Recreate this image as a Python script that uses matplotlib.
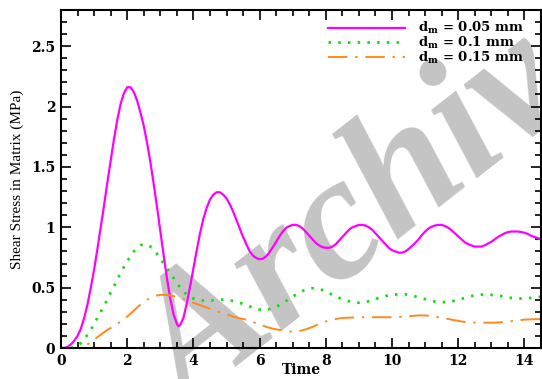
import matplotlib
matplotlib.use("Agg")
import matplotlib.pyplot as plt
from matplotlib.ticker import MultipleLocator

plt.rcParams['font.family'] = ['DejaVu Serif']
plt.rcParams['mathtext.fontset'] = 'custom'
plt.rcParams['mathtext.rm'] = 'DejaVu Serif:bold'
plt.rcParams['mathtext.it'] = 'DejaVu Serif:bold'

# shear stress vs time, d_m = 0.05 mm
t1 = [0.0, 0.1, 0.2, 0.3, 0.4, 0.5, 0.6, 0.7, 0.8, 0.9, 1.0, 1.1, 1.2, 1.3, 1.4,
      1.5, 1.6, 1.7, 1.8, 1.9, 2.0, 2.1, 2.2, 2.3, 2.4, 2.5, 2.6, 2.7, 2.8, 2.9,
      3.0, 3.1, 3.2, 3.3, 3.4, 3.5, 3.55, 3.6, 3.7, 3.8, 3.9, 4.0, 4.1, 4.2,
      4.3, 4.4, 4.5, 4.6, 4.7, 4.8, 4.9, 5.0, 5.1, 5.2, 5.3, 5.4, 5.5, 5.6,
      5.7, 5.8, 5.9, 6.0, 6.1, 6.2, 6.3, 6.4, 6.5, 6.6, 6.7, 6.8, 6.9, 7.0,
      7.1, 7.2, 7.3, 7.4, 7.5, 7.6, 7.7, 7.8, 7.9, 8.0, 8.1, 8.2, 8.3, 8.4,
      8.5, 8.6, 8.7, 8.8, 8.9, 9.0, 9.1, 9.2, 9.3, 9.4, 9.5, 9.6, 9.7, 9.8,
      9.9, 10.0, 10.1, 10.2, 10.3, 10.4, 10.5, 10.6, 10.7, 10.8, 10.9, 11.0,
      11.1, 11.2, 11.3, 11.4, 11.5, 11.6, 11.7, 11.8, 11.9, 12.0, 12.1, 12.2,
      12.3, 12.4, 12.5, 12.6, 12.7, 12.8, 12.9, 13.0, 13.1, 13.2, 13.3, 13.4,
      13.5, 13.6, 13.7, 13.8, 13.9, 14.0, 14.1, 14.2, 14.3, 14.4, 14.5]
s1 = [0.00, 0.00, 0.01, 0.03, 0.06, 0.10, 0.16, 0.25, 0.36, 0.50, 0.65, 0.82,
      1.00, 1.18, 1.37, 1.55, 1.73, 1.89, 2.02, 2.11, 2.16, 2.16, 2.12, 2.05,
      1.95, 1.84, 1.70, 1.54, 1.36, 1.17, 0.97, 0.77, 0.58, 0.41, 0.28, 0.20,
      0.18, 0.19, 0.25, 0.37, 0.51, 0.66, 0.81, 0.95, 1.07, 1.16, 1.23, 1.27,
      1.29, 1.29, 1.27, 1.24, 1.19, 1.13, 1.06, 0.99, 0.92, 0.86, 0.80, 0.765,
      0.745, 0.735, 0.74, 0.76, 0.795, 0.835, 0.88, 0.925, 0.965, 0.995, 1.01,
      1.02, 1.02, 1.01, 0.99, 0.96, 0.93, 0.90, 0.87, 0.85, 0.835, 0.83, 0.83,
      0.84, 0.86, 0.89, 0.92, 0.95, 0.98, 1.00, 1.01, 1.02, 1.02, 1.015, 1.00,
      0.98, 0.95, 0.92, 0.89, 0.86, 0.83, 0.81, 0.80, 0.79, 0.79, 0.80, 0.82,
      0.845, 0.87, 0.90, 0.935, 0.965, 0.99, 1.005, 1.015, 1.02, 1.02, 1.01,
      0.995, 0.975, 0.95, 0.925, 0.90, 0.875, 0.86, 0.85, 0.84, 0.84, 0.84,
      0.85, 0.865, 0.88, 0.90, 0.92, 0.935, 0.95, 0.96, 0.965, 0.965, 0.965,
      0.96, 0.955, 0.945, 0.93, 0.92, 0.91, 0.90]

# d_m = 0.1 mm
t2 = [0.0, 0.3, 0.4, 0.5, 0.6, 0.7, 0.8, 0.9, 1.0, 1.1, 1.2, 1.3, 1.4, 1.5, 1.6,
      1.7, 1.8, 1.9, 2.0, 2.1, 2.2, 2.3, 2.4, 2.5, 2.6, 2.7, 2.8, 2.9, 3.0, 3.1,
      3.2, 3.3, 3.4, 3.5, 3.6, 3.7, 3.8, 3.9, 4.0, 4.2, 4.4, 4.6, 4.8, 5.0, 5.2,
      5.4, 5.6, 5.8, 6.0, 6.2, 6.4, 6.6, 6.8, 7.0, 7.2, 7.4, 7.6, 7.8, 8.0, 8.2,
      8.4, 8.6, 8.8, 9.0, 9.2, 9.4, 9.6, 9.8, 10.0, 10.2, 10.4, 10.6, 10.8,
      11.0, 11.2, 11.4, 11.6, 11.8, 12.0, 12.2, 12.4, 12.6, 12.8, 13.0, 13.2,
      13.4, 13.6, 13.8, 14.0, 14.2, 14.5]
s2 = [0.0, 0.0, 0.01, 0.02, 0.04, 0.07, 0.11, 0.15, 0.20, 0.25, 0.30, 0.35,
      0.40, 0.46, 0.51, 0.57, 0.62, 0.67, 0.72, 0.76, 0.80, 0.83, 0.85, 0.86,
      0.855, 0.84, 0.81, 0.78, 0.74, 0.70, 0.66, 0.62, 0.58, 0.54, 0.50, 0.47,
      0.44, 0.42, 0.41, 0.395, 0.39, 0.395, 0.40, 0.40, 0.39, 0.375, 0.355,
      0.335, 0.318, 0.315, 0.33, 0.355, 0.39, 0.425, 0.46, 0.485, 0.495, 0.49,
      0.47, 0.44, 0.415, 0.395, 0.38, 0.375, 0.38, 0.395, 0.415, 0.43, 0.44,
      0.445, 0.445, 0.435, 0.42, 0.405, 0.39, 0.38, 0.38, 0.385, 0.40, 0.415,
      0.43, 0.44, 0.445, 0.44, 0.435, 0.425, 0.415, 0.41, 0.41, 0.415, 0.425]

# d_m = 0.15 mm
t3 = [0.0, 0.6, 0.7, 0.8, 0.9, 1.0, 1.2, 1.4, 1.6, 1.8, 2.0, 2.2, 2.4, 2.6, 2.8,
      3.0, 3.2, 3.4, 3.6, 3.8, 4.0, 4.2, 4.4, 4.6, 4.8, 5.0, 5.2, 5.4, 5.6, 5.8,
      6.0, 6.2, 6.4, 6.6, 6.8, 7.0, 7.2, 7.4, 7.6, 7.8, 8.0, 8.2, 8.4, 8.6, 9.0,
      9.5, 10.0, 10.4, 10.8, 11.0, 11.3, 11.6, 11.9, 12.2, 12.5, 12.8, 13.1,
      13.4, 13.7, 14.0, 14.5]
s3 = [0.0, 0.0, 0.01, 0.03, 0.05, 0.07, 0.11, 0.15, 0.18, 0.22, 0.26, 0.31,
      0.36, 0.40, 0.43, 0.44, 0.44, 0.43, 0.415, 0.395, 0.375, 0.355, 0.335,
      0.315, 0.295, 0.28, 0.26, 0.245, 0.235, 0.215, 0.195, 0.175, 0.16, 0.15,
      0.14, 0.135, 0.14, 0.155, 0.175, 0.20, 0.22, 0.235, 0.245, 0.25, 0.255,
      0.255, 0.255, 0.26, 0.27, 0.27, 0.26, 0.245, 0.23, 0.215, 0.21, 0.21,
      0.21, 0.215, 0.225, 0.235, 0.24]

labels = [r'd$_{\rm m}$ = 0.05 mm', r'd$_{\rm m}$ = 0.1 mm', r'd$_{\rm m}$ = 0.15 mm']

fig = plt.figure(figsize=(5.42, 3.79), dpi=100)
fig.patch.set_facecolor('white')
ax = fig.add_axes([61/542, 31/379, 480/542, 338/379])
ax.set_facecolor('none')

# archive stamp behind the plot
fig.text(188/542, -32/379, 'Archiv', fontsize=128, fontweight='bold', style='italic',
         family='Liberation Serif', color='#c4c4c4', rotation=38,
         rotation_mode='anchor', ha='left', va='baseline', zorder=-1)

ax.plot(t1, s1, color='#ff00ff', lw=1.6, label=labels[0])
ax.plot(t2, s2, color='#11dd11', lw=2.0, linestyle=(0, (0.9, 2.6)), label=labels[1])
ax.plot(t3, s3, color='#ff8a1c', lw=1.4, linestyle=(0, (10, 4, 1.2, 4)), label=labels[2])

ax.set_xlim(0, 14.5)
ax.set_ylim(0, 2.8)
ax.xaxis.set_major_locator(MultipleLocator(2))
ax.xaxis.set_minor_locator(MultipleLocator(0.5))
ax.yaxis.set_major_locator(MultipleLocator(0.5))
ax.yaxis.set_minor_locator(MultipleLocator(0.1))
ax.tick_params(which='both', direction='in', top=True, right=True, width=1.2)
ax.tick_params(which='major', length=7, labelsize=10, pad=4)
ax.tick_params(which='minor', length=4)
ax.set_yticks([0, 0.5, 1, 1.5, 2, 2.5])
ax.set_yticklabels(['0', '0.5', '1', '1.5', '2', '2.5'])
for lab in ax.get_xticklabels() + ax.get_yticklabels():
    lab.set_fontweight('bold')
for sp in ax.spines.values():
    sp.set_linewidth(1.5)

ax.set_xlabel('Time', fontsize=10, fontweight='bold', labelpad=-3.5)
ax.set_ylabel('Shear Stress in Matrix (MPa)', fontsize=11, family='Liberation Serif',
              labelpad=5)

leg = ax.legend(loc='upper right', frameon=False, fontsize=9.5, handlelength=5.8,
                handletextpad=1.0, labelspacing=-0.1, borderaxespad=0, borderpad=0,
                bbox_to_anchor=(0.965, 0.97))
for txt in leg.get_texts():
    txt.set_fontweight('bold')

fig.savefig('out.png', dpi=100)
